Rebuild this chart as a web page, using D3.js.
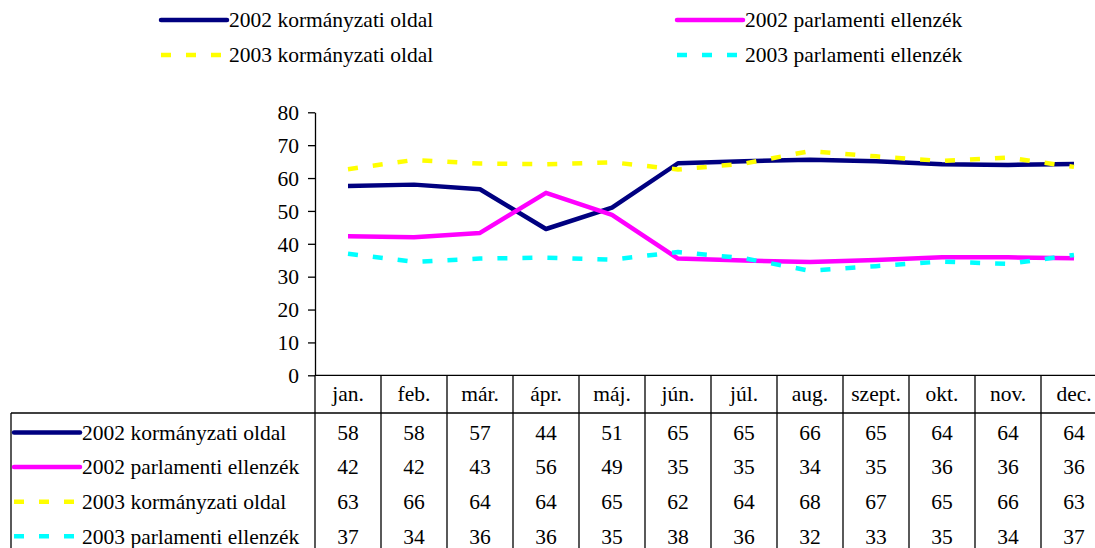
<!DOCTYPE html>
<html>
<head>
<meta charset="utf-8">
<script src="https://cdn.jsdelivr.net/npm/d3@7"></script>
<style>
  html, body { margin: 0; padding: 0; background: #fff; overflow: hidden; }
</style>
</head>
<body>
<script>
const WIDTH = 1095;
const HEIGHT = 548;
const FONT = 21.5;
const FAMILY = "'Liberation Serif', 'Times New Roman', Times, 'DejaVu Serif', serif";

const MONTHS = ["jan.", "feb.", "már.", "ápr.", "máj.", "jún.", "júl.", "aug.", "szept.", "okt.", "nov.", "dec."];
const SERIES_NAMES = [
    "2002 kormányzati oldal",
    "2002 parlamenti ellenzék",
    "2003 kormányzati oldal",
    "2003 parlamenti ellenzék"
];
// values plotted on the lines
const KORM_2002 = [57.6, 58.0, 56.6, 44.5, 51.0, 64.5, 65.1, 65.6, 65.1, 64.2, 64.0, 64.3];
const ELL_2002 = [42.3, 42.0, 43.3, 55.5, 48.8, 35.5, 34.9, 34.5, 35.1, 35.9, 35.9, 35.6];
const KORM_2003 = [62.7, 65.5, 64.4, 64.2, 64.8, 62.6, 64.4, 68.2, 66.6, 65.2, 66.2, 63.4];
const ELL_2003 = [37.0, 34.5, 35.5, 35.8, 35.2, 37.5, 35.6, 31.8, 33.2, 34.6, 33.9, 36.6];
// values printed in the table
const TABLE_ROWS = [
    [58, 58, 57, 44, 51, 65, 65, 66, 65, 64, 64, 64],
    [42, 42, 43, 56, 49, 35, 35, 34, 35, 36, 36, 36],
    [63, 66, 64, 64, 65, 62, 64, 68, 67, 65, 66, 63],
    [37, 34, 36, 36, 35, 38, 36, 32, 33, 35, 34, 37]
];
const Y_TICKS = [0, 10, 20, 30, 40, 50, 60, 70, 80];

const COLORS = ["#000080", "#ff00ff", "#ffff00", "#00ffff"];
const DASH = [null, null, "10,15", "10,15"];
const SERIES = [KORM_2002, ELL_2002, KORM_2003, ELL_2003];

const PLOT = { left: 315, top: 112.3, bottom: 375.3, colWidth: 66 };
const TABLE = { left: 11, headerBottom: 413, rowHeight: 34.6, firstRow: 432.5 };

var svg = d3.select("body").append("svg")
    .attr("width", WIDTH)
    .attr("height", HEIGHT)
    .attr("viewBox", [0, 0, WIDTH, HEIGHT]);

var x = d3.scaleBand()
    .domain(MONTHS)
    .range([PLOT.left, PLOT.left + MONTHS.length * PLOT.colWidth]);

var y = d3.scaleLinear()
    .domain([0, 80])
    .range([PLOT.bottom, PLOT.top]);

function label(g, txt, xx, yy, anchor) {
    return g.append("text")
        .text(txt)
        .attr("x", xx)
        .attr("y", yy)
        .attr("dy", "0.34em")
        .attr("text-anchor", anchor || "start")
        .style("font-family", FAMILY)
        .style("font-size", FONT + "px")
        .style("fill", "#000");
}

// Y axis
var yAxis = svg.append("g")
    .attr("transform", `translate(${PLOT.left},0)`)
    .call(d3.axisLeft(y).tickValues(Y_TICKS).tickSize(7).tickPadding(9).tickSizeOuter(0));
yAxis.select(".domain").attr("stroke", "#000").attr("stroke-width", 1.3);
yAxis.selectAll(".tick line").attr("stroke", "#000").attr("stroke-width", 1.3);
yAxis.selectAll(".tick text")
    .attr("dy", "0.34em")
    .style("font-family", FAMILY)
    .style("font-size", FONT + "px");

// Table grid
var tableRight = x.range()[1];
var gridBottom = HEIGHT + 10;
var grid = svg.append("g").attr("stroke", "#000").attr("stroke-width", 1.3);
grid.append("line")
    .attr("x1", PLOT.left).attr("x2", tableRight)
    .attr("y1", PLOT.bottom).attr("y2", PLOT.bottom);
grid.append("line")
    .attr("x1", TABLE.left).attr("x2", tableRight)
    .attr("y1", TABLE.headerBottom).attr("y2", TABLE.headerBottom);
grid.append("line")
    .attr("x1", TABLE.left).attr("x2", TABLE.left)
    .attr("y1", TABLE.headerBottom).attr("y2", gridBottom);
MONTHS.forEach(function(m) {
    grid.append("line")
        .attr("x1", x(m)).attr("x2", x(m))
        .attr("y1", PLOT.bottom).attr("y2", gridBottom);
});
grid.append("line")
    .attr("x1", tableRight).attr("x2", tableRight)
    .attr("y1", PLOT.bottom).attr("y2", gridBottom);

// Month labels
MONTHS.forEach(function(m) {
    label(svg, m, x(m) + x.bandwidth() / 2, (PLOT.bottom + TABLE.headerBottom) / 2, "middle");
});

// Lines
var line = d3.line()
    .x((d, i) => x(MONTHS[i]) + x.bandwidth() / 2)
    .y(d => y(d));

SERIES.forEach(function(values, s) {
    svg.append("path")
        .datum(values)
        .attr("d", line)
        .style("fill", "none")
        .style("stroke", COLORS[s])
        .style("stroke-width", 4.5)
        .style("stroke-linejoin", "round")
        .style("stroke-dasharray", DASH[s]);
});

// Legend sample + name
function legendKey(g, s, x0, x1, yy) {
    g.append("line")
        .attr("x1", x0).attr("x2", x1)
        .attr("y1", yy).attr("y2", yy)
        .style("stroke", COLORS[s])
        .style("stroke-width", 4.5)
        .style("stroke-linecap", DASH[s] ? "butt" : "round")
        .style("stroke-dasharray", DASH[s]);
    label(g, SERIES_NAMES[s], x1 + 2, yy);
}

// Top legend
var legend = svg.append("g");
var LEG_COLS = [161, 677];
var LEG_ROWS = [20, 55];
[0, 1, 2, 3].forEach(function(s) {
    var col = s % 2, row = Math.floor(s / 2);
    legendKey(legend, s, LEG_COLS[col], LEG_COLS[col] + 66, LEG_ROWS[row]);
});

// Table rows
TABLE_ROWS.forEach(function(row, r) {
    var yy = TABLE.firstRow + r * TABLE.rowHeight;
    legendKey(svg, r, 14, 80, yy);
    row.forEach(function(v, i) {
        label(svg, v, x(MONTHS[i]) + x.bandwidth() / 2, yy, "middle");
    });
});
</script>
</body>
</html>
